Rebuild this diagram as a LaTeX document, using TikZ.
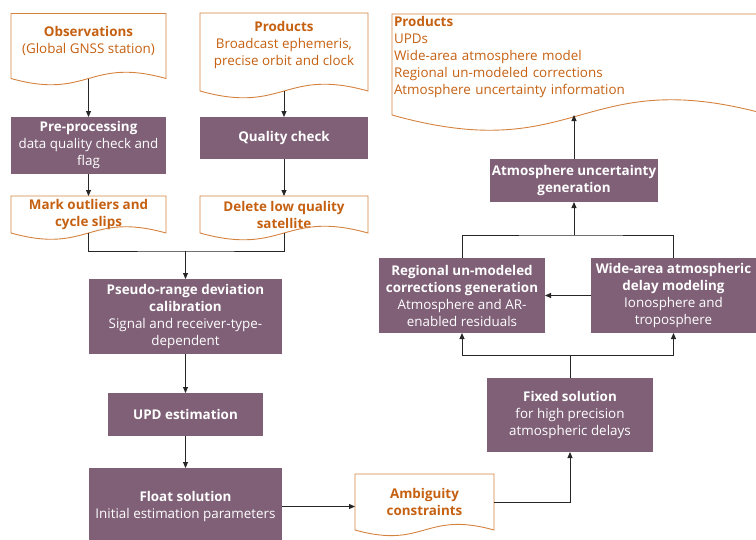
\documentclass[tikz,border=0pt]{standalone}
\usepackage{fontspec}
\setmainfont{Open Sans}
\usepackage{xcolor}
\usepackage{tikz}
\usetikzlibrary{arrows.meta}
\usetikzlibrary{calc}

\definecolor{boxfill}{RGB}{127,96,119}
\definecolor{docline}{RGB}{212,130,62}
\definecolor{doctext}{RGB}{197,96,17}

% document outline round a node, optional extra straight side below it
\newcommand\docframe[2][0]{%
  \coordinate (#2-l) at ($(#2.south west)+(0,#1)$);
  \coordinate (#2-r) at ($(#2.south east)+(0,#1)$);
  \coordinate (#2-b) at ($(#2-l)!0.5!(#2-r)$);
  \draw[docline, line width=0.9pt] (#2-l) -- (#2.north west) -- (#2.north east) -- (#2-r)
    .. controls ($(#2-b)!0.28!90:(#2-r)$) and ($(#2-b)!0.28!-90:(#2-r)$) .. (#2-l);}

\begin{document}
\begin{tikzpicture}[x=1pt, y=-1pt,
    every node/.style={font=\fontsize{13.4}{17}\selectfont, inner sep=2pt, outer sep=0pt},
    box/.style={fill=boxfill, text=white, align=center},
    doc/.style={text=doctext, align=center},
    conn/.style={black!85, line width=0.9pt, -{Triangle[length=6pt, width=5pt]}},
    wire/.style={black!85, line width=0.9pt}]
  \useasboundingbox (0,0) rectangle (756,539);
  \clip (0,0) rectangle (756,539);

  % left column
  \node[doc, minimum width=155, minimum height=55] (obs) at (88.5,41)
    {\textbf{Observations}\\(Global GNSS station)};
  \node[box, minimum width=155, minimum height=57] (pre) at (88.5,145.5)
    {\textbf{Pre-processing}\\data quality check and\\flag};
  \node[doc, minimum width=155, minimum height=37] (mark) at (88.5,214.5)
    {\textbf{Mark outliers and}\\\textbf{cycle slips}};

  % second column
  \node[doc, minimum width=168, minimum height=65] (prodin) at (284,45.5)
    {\textbf{Products}\\Broadcast ephemeris,\\precise orbit and clock};
  \node[box, minimum width=168, minimum height=42] (qc) at (284,138)
    {\textbf{Quality check}};
  \node[doc, minimum width=168, minimum height=37] (del) at (284,214.5)
    {\textbf{Delete low quality}\\\textbf{satellite}};

  \node[box, minimum width=193, minimum height=75] (pseudo) at (185.5,316.5)
    {\textbf{Pseudo-range deviation}\\\textbf{calibration}\\Signal and receiver-type-\\dependent};
  \node[box, minimum width=155, minimum height=43] (upd) at (185.5,414.5)
    {\textbf{UPD estimation}};
  \node[box, minimum width=193, minimum height=77] (float) at (185.5,506.5)
    {\textbf{Float solution}\\Initial estimation parameters};
  \node[doc, minimum width=139, minimum height=56] (amb) at (424.5,502)
    {\textbf{Ambiguity}\\\textbf{constraints}};

  % right part
  \node[box, minimum width=166, minimum height=74] (fixed) at (570,415)
    {\textbf{Fixed solution}\\for high precision\\atmospheric delays};
  \node[box, minimum width=166, minimum height=75] (regional) at (462,295.5)
    {\textbf{Regional un-modeled}\\\textbf{corrections generation}\\Atmosphere and AR-\\enabled residuals};
  \node[box, minimum width=165, minimum height=75] (wide) at (673.5,295.5)
    {\textbf{Wide-area atmospheric}\\\textbf{delay modeling}\\Ionosphere and\\troposphere};
  \node[box, minimum width=168, minimum height=43] (atm) at (574,180.5)
    {\textbf{Atmosphere uncertainty}\\\textbf{generation}};
  \node[doc, align=left, text width=373, minimum width=377, minimum height=86] (prodout) at (580.5,57)
    {\textbf{Products}\\UPDs\\Wide-area atmosphere model\\Regional un-modeled corrections\\Atmosphere uncertainty information};

  \docframe[10]{obs}
  \docframe[13]{prodin}
  \docframe{mark}
  \docframe{del}
  \docframe{amb}
  \docframe[15]{prodout}

  \coordinate (join1) at (185.5,251);
  \coordinate (split) at (570,355);
  \coordinate (join2) at (574,235);

  \draw[conn] (obs-b) -- (pre.north);
  \draw[conn] (pre.south) -- (mark.north);
  \draw[conn] (prodin-b) -- (qc.north);
  \draw[conn] (qc.south) -- (del.north);
  \draw[wire] (mark-b) |- (join1) -| (del-b);
  \draw[conn] (join1) -- (pseudo.north);
  \draw[conn] (pseudo.south) -- (upd.north);
  \draw[conn] (upd.south) -- (float.north);
  \draw[conn] (float.east) -- (float.east -| amb.west);
  \draw[conn] (amb.east) -| (fixed.south);
  \draw[wire] (fixed.north) -- (split);
  \draw[conn] (split) -| (regional.south);
  \draw[conn] (split) -| (wide.south);
  \draw[conn] (wide.west) -- (regional.east);
  \draw[wire] (regional.north) |- (join2) -| (wide.north);
  \draw[conn] (join2) -- (atm.south);
  \draw[conn] (atm.north) -- (atm.north |- prodout-b);
\end{tikzpicture}
\end{document}
